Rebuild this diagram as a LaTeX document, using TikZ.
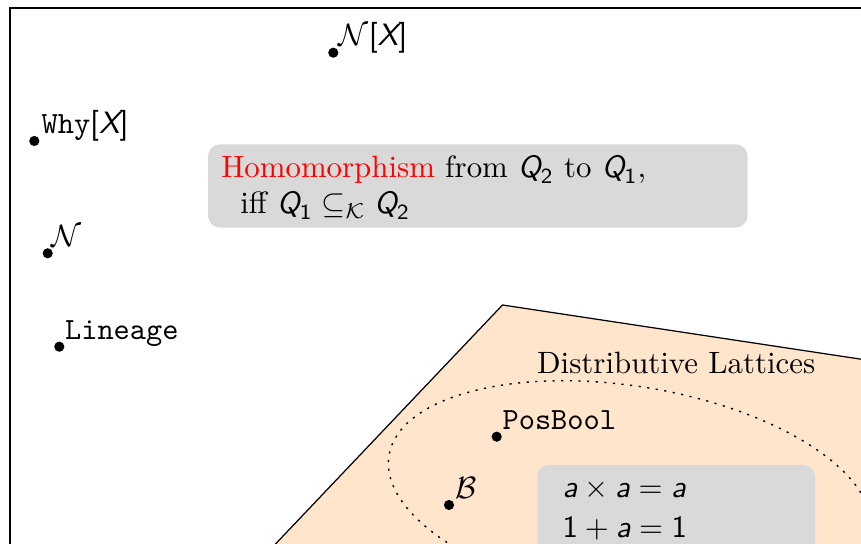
\documentclass[tikz,border=0pt]{standalone}
\usepackage{amsmath}
\usepackage{fontspec}
\newcommand\sv[1]{\textsf{\itshape #1}}
\newcommand\sn[1]{\textsf{#1}}
\tikzset{
  dot/.style={circle, fill=black, inner sep=0pt, minimum size=3.3pt},
  lbl/.style={anchor=base west, inner sep=0pt},
  greybox/.style={fill=gray!30, rounded corners=4pt},
  region/.style={fill=orange!20, draw=black, line width=0.4pt},
  ellipsedots/.style={draw=black, line width=0.45pt, dash pattern=on 0.7pt off 2.1pt},
  frameline/.style={draw=black, line width=0.65pt}
}
\begin{document}
\begin{tikzpicture}[x=0.32415pt, y=-0.32415pt]
\clip (0,0) rectangle (861,544);
% region of distributive lattices
\path[region] (222.3,600) -- (502.5,305) -- (900,365.1) -- (900,600) -- cycle;
\node[lbl] (dl) at (536.5,374) {Distributive Lattices};
% dotted ellipse
\draw[ellipsedots, rotate around={-9.25:(629.8,494.7)}] (629.8,494.7) ellipse [x radius=79.09pt, y radius=35.14pt];
% grey boxes
\fill[greybox] (208,144.3) rectangle (747.7,227.7);
\node[lbl] (h1) at (220.7,177.7) {\textcolor{red}{Homomorphism} from $\sv{Q}_{\sn{2}}$ to $\sv{Q}_{\sn{1}}$,};
\node[lbl] (h2) at (239.7,213.7) {iff $\sv{Q}_{\sn{1}}\subseteq_{\mathcal{K}}\sv{Q}_{\sn{2}}$};
\fill[greybox] (537.3,465) rectangle (815,640);
\node[lbl] (e1) at (562,497.7) {$\sv{a}\times\sv{a}=\sv{a}$};
\node[lbl] (e2) at (562,537.3) {$\sn{1}+\sv{a}=\sn{1}$};
% dots and labels
\node[dot] (dNX) at (333.3,52.7) {};
\node[lbl] (lNX) at (338.3,46) {$\mathcal{N}\sn{[}\sv{X}\sn{]}$};
\node[dot] (dWhy) at (34.3,141) {};
\node[lbl] (lWhy) at (41,133.5) {\texttt{Why}$\sn{[}\sv{X}\sn{]}$};
\node[dot] (dN) at (47.7,253.3) {};
\node[lbl] (lN) at (50.5,247) {$\mathcal{N}$};
\node[dot] (dLin) at (59.3,346.7) {};
\node[lbl] (lLin) at (64.5,339.3) {\texttt{Lineage}};
\node[dot] (dPos) at (496.7,436.7) {};
\node[lbl] (lPos) at (502,429.3) {\texttt{PosBool}};
\node[dot] (dB) at (449,505) {};
\node[lbl] (lB) at (454.5,498.3) {$\mathcal{B}$};
% frame
\draw[frameline] (10,8) rectangle (1000,700);
\end{tikzpicture}
\end{document}
